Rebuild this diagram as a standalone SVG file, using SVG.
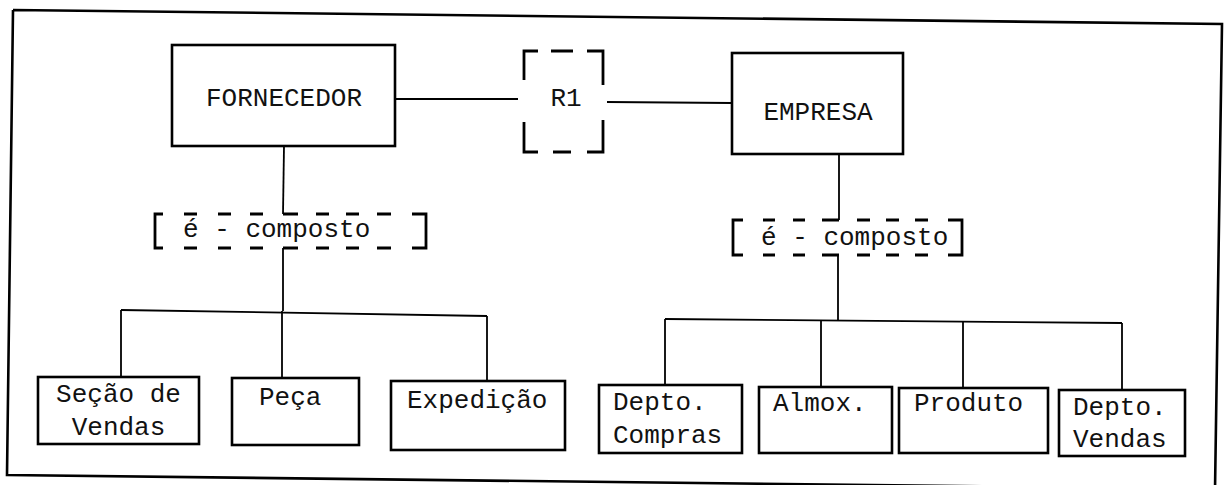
<svg xmlns="http://www.w3.org/2000/svg" width="1226" height="485" viewBox="0 0 1226 485">
  <style>
    .box { fill: #ffffff; stroke: #000000; stroke-width: 2.6; }
    .ln { fill: none; stroke: #000000; stroke-width: 1.8; }
    .dsh { fill: none; stroke: #000000; stroke-width: 2.8; stroke-linecap: butt; }
    .frame { fill: none; stroke: #000000; stroke-width: 2.6; }
    .t { font-family: "Liberation Mono", "Courier New", monospace; font-size: 26px; fill: #111111; }
    .m { text-anchor: middle; }
  </style>
  <rect x="0" y="0" width="1226" height="485" fill="#ffffff"/>
  <path class="frame" d="M13,10 L1222,24 L1215,490 M13,10 L7,475 L1215,489"/>

  <g id="connectors">
    <path class="ln" d="M395,99 L518,99"/>
    <path class="ln" d="M607,102 L732,103"/>
    <path class="ln" d="M284,146 L283,214"/>
    <path class="ln" d="M283,248 L283,311"/>
    <path class="ln" d="M121,310 L487,316"/>
    <path class="ln" d="M121,310 L121,377"/>
    <path class="ln" d="M282,311 L282,378"/>
    <path class="ln" d="M487,316 L487,381"/>
    <path class="ln" d="M839,154 L839,220"/>
    <path class="ln" d="M838,255 L838,320"/>
    <path class="ln" d="M665,319 L1122,323"/>
    <path class="ln" d="M665,319 L665,385"/>
    <path class="ln" d="M821,320 L821,387"/>
    <path class="ln" d="M963,322 L963,388"/>
    <path class="ln" d="M1122,323 L1122,390"/>
  </g>

  <g id="fornecedor">
    <rect class="box" x="172" y="45" width="223" height="101"/>
    <text class="t m" x="284" y="106">FORNECEDOR</text>
  </g>

  <g id="r1">
    <path class="dsh" d="M524,80 L524,51 L538,51 M551,51 L573,51 M587,51 L603,51 L603,85 M603,120 L603,152 L587,152 M571,152 L553,152 M538,152 L524,152 L524,122"/>
    <text class="t m" x="566" y="106">R1</text>
  </g>

  <g id="empresa">
    <rect class="box" x="732" y="53" width="171" height="101"/>
    <text class="t m" x="818" y="120">EMPRESA</text>
  </g>

  <g id="composto-fornecedor">
    <path class="dsh" d="M163,214 L155,214 L155,248 L163,248 M184,214 L197,214 M218,214 L231,214 M250,214 L263,214 M283,214 L298,214 M316,214 L329,214 M346,214 L359,214 M377,214 L391,214 M412,214 L426,214 L426,248 L412,248 M184,248 L197,248 M218,248 L231,248 M250,248 L263,248 M283,248 L298,248 M316,248 L329,248 M346,248 L359,248 M377,248 L391,248"/>
    <text class="t" x="183" y="237">é - composto</text>
  </g>

  <g id="composto-empresa">
    <path class="dsh" d="M743,220 L733,220 L733,255 L743,255 M763,220 L775,220 M793,220 L805,220 M822,220 L839,220 M857,220 L870,220 M886,220 L899,220 M915,220 L928,220 M948,220 L962,220 L962,255 L948,255 M763,255 L775,255 M793,255 L805,255 M822,255 L839,255 M857,255 L870,255 M886,255 L899,255 M915,255 L928,255"/>
    <text class="t" x="761" y="245">é - composto</text>
  </g>

  <g id="secao-de-vendas">
    <rect class="box" x="38" y="377" width="161" height="67"/>
    <text class="t m" x="118.5" y="402">Seção de</text>
    <text class="t m" x="118.5" y="435">Vendas</text>
  </g>

  <g id="peca">
    <rect class="box" x="232" y="378" width="127" height="67"/>
    <text class="t" x="259" y="405">Peça</text>
  </g>

  <g id="expedicao">
    <rect class="box" x="391" y="381" width="174" height="69"/>
    <text class="t" x="407" y="408">Expedição</text>
  </g>

  <g id="depto-compras">
    <rect class="box" x="599" y="385" width="143" height="68"/>
    <text class="t" x="613" y="410">Depto.</text>
    <text class="t" x="613" y="443">Compras</text>
  </g>

  <g id="almox">
    <rect class="box" x="759" y="387" width="133" height="66"/>
    <text class="t" x="773" y="411">Almox.</text>
  </g>

  <g id="produto">
    <rect class="box" x="899" y="388" width="149" height="65"/>
    <text class="t" x="914" y="411">Produto</text>
  </g>

  <g id="depto-vendas">
    <rect class="box" x="1059" y="390" width="126" height="66"/>
    <text class="t" x="1073" y="415">Depto.</text>
    <text class="t" x="1073" y="447">Vendas</text>
  </g>
</svg>
